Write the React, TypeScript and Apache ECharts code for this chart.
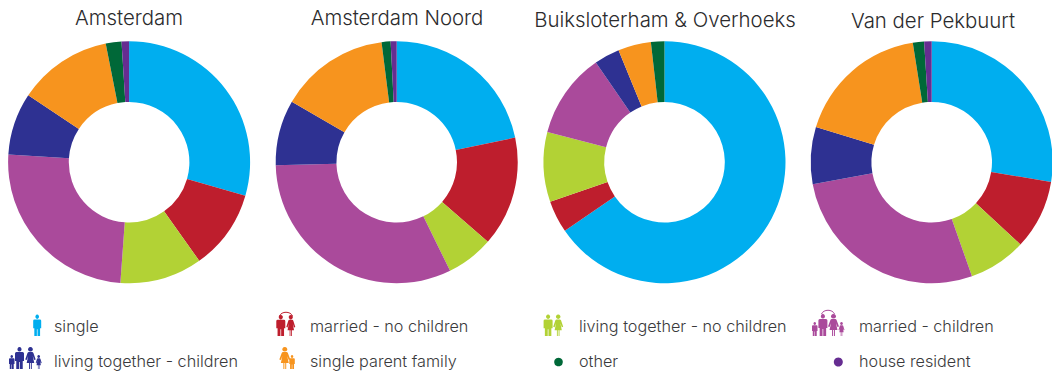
import React, { useEffect, useRef } from "react";
import * as echarts from "echarts";

const categories = [
  "single",
  "married - no children",
  "living together - no children",
  "married - children",
  "living together - children",
  "single parent family",
  "other",
  "house resident",
];
const colors = ["#00AEEF", "#BE1E2D", "#B2D235", "#AA4A9B", "#2E3192", "#F7941E", "#006838", "#662D91"];

const amsterdam = [29.5, 10.7, 11.0, 24.9, 8.3, 12.6, 2.1, 1.0];
const amsterdamNoord = [21.75, 14.7, 6.3, 31.9, 8.7, 14.7, 1.2, 0.8];
const buiksloterham = [65.4, 4.3, 9.3, 11.4, 3.4, 4.4, 1.8, 0];
const pekbuurt = [27.6, 9.3, 7.7, 27.5, 7.6, 17.8, 1.5, 1.0];

const areaNames = ["Amsterdam", "Amsterdam Noord", "Buiksloterham & Overhoeks", "Van der Pekbuurt"];
const areaValues = [amsterdam, amsterdamNoord, buiksloterham, pekbuurt];
const centersX = [129.1, 396.7, 664.5, 931.7];
const titleX = [129, 397, 665, 933];
const titleY = [17, 17, 19, 20];

const FONT = "Inter, Roboto, 'Liberation Sans', sans-serif";

const MAN = "M5 0A2.3 2.3 0 1 1 4.99 0ZM1.6 5H8.4Q10 5 10 6.5V14H8.6V22H5.4V15H4.6V22H1.4V14H0V6.5Q0 5 1.6 5Z";
const WOMAN = "M5 0A2.3 2.3 0 1 1 4.99 0ZM3.4 5H6.6Q7.4 5 7.8 6L10 12.5L8.6 13L7.2 9L8.6 16H6.3V22H5.4V16H4.6V22H3.7V16H1.4L2.8 9L1.4 13L0 12.5L2.2 6Q2.6 5 3.4 5Z";

echarts.graphic.registerShape("legendMan", echarts.graphic.extendPath(MAN, {}));
echarts.graphic.registerShape("legendWoman", echarts.graphic.extendPath(WOMAN, {}));

type Fig = [string, number, number, number, number];
// kind, left, top, width, height
const icons: { color: number; figs: Fig[]; arc?: [number, number, number] }[] = [
  { color: 0, figs: [["legendMan", 33.2, 314.5, 8, 21.5]] },
  { color: 1, figs: [["legendMan", 276.3, 315, 9, 21], ["legendWoman", 286.3, 315, 9, 21]], arc: [279.5, 292.5, 311] },
  { color: 2, figs: [["legendMan", 543.6, 314.5, 9, 21.5], ["legendWoman", 553.2, 314.5, 10, 21.5]] },
  {
    color: 3,
    figs: [
      ["legendMan", 812, 322, 5.5, 14],
      ["legendMan", 818.4, 314, 9, 22],
      ["legendWoman", 828, 314, 11, 22],
      ["legendWoman", 838.5, 322, 6, 14],
    ],
    arc: [821.5, 834.5, 309],
  },
  {
    color: 4,
    figs: [
      ["legendMan", 9, 355, 5.5, 14],
      ["legendMan", 15, 347, 9, 22],
      ["legendWoman", 25.2, 347, 10.5, 22],
      ["legendWoman", 35.7, 355, 6, 14],
    ],
  },
  { color: 5, figs: [["legendWoman", 279.3, 347, 11, 22], ["legendMan", 289.3, 355, 5.5, 14]] },
];
const dots = [
  { color: 6, x: 558.5, y: 362, r: 4.3 },
  { color: 7, x: 838.3, y: 362, r: 4.5 },
];
const legendText = [
  { cat: 0, x: 54, y: 326 },
  { cat: 1, x: 310, y: 326 },
  { cat: 2, x: 579, y: 326 },
  { cat: 3, x: 859, y: 326 },
  { cat: 4, x: 54, y: 361 },
  { cat: 5, x: 310, y: 361 },
  { cat: 6, x: 579, y: 361 },
  { cat: 7, x: 859, y: 361 },
];

export default function App() {
  const ref = useRef<HTMLDivElement>(null);
  useEffect(() => {
    const chart = echarts.init(ref.current!, null, { renderer: "svg" });
    const graphic: any[] = [];
    icons.forEach((ic) => {
      ic.figs.forEach(([type, x, y, w, h]) => {
        graphic.push({
          type,
          x,
          y,
          scaleX: w / 10,
          scaleY: h / 22,
          silent: true,
          style: { fill: colors[ic.color] },
        });
      });
      if (ic.arc) {
        const [a, b, top] = ic.arc;
        graphic.push({
          type: "bezierCurve",
          silent: true,
          shape: { x1: a, y1: top + 5, x2: b, y2: top + 5, cpx1: a + 2, cpy1: top, cpx2: b - 2, cpy2: top },
          style: { stroke: colors[ic.color], lineWidth: 1, fill: "none" },
        });
      }
    });
    dots.forEach((d) =>
      graphic.push({
        type: "circle",
        silent: true,
        shape: { cx: d.x, cy: d.y, r: d.r },
        style: { fill: colors[d.color] },
      })
    );
    legendText.forEach((t) =>
      graphic.push({
        type: "text",
        x: t.x,
        y: t.y,
        silent: true,
        style: {
          text: categories[t.cat],
          fill: "#3a3a3c",
          font: `300 16.2px ${FONT}`,
          textVerticalAlign: "middle",
          verticalAlign: "middle",
        },
      })
    );
    chart.setOption({
      animation: false,
      title: areaNames.map((text, i) => ({
        text,
        left: titleX[i],
        top: titleY[i] - 12,
        padding: 0,
        textAlign: "center",
        textStyle: { fontFamily: FONT, fontWeight: 300, fontSize: 20.4, color: "#2b2b2d", lineHeight: 24 },
      })),
      series: areaNames.map((name, i) => ({
        type: "pie",
        name,
        center: [centersX[i], 162.2],
        radius: [60.3, 121],
        startAngle: 90,
        clockwise: true,
        silent: true,
        label: { show: false },
        labelLine: { show: false },
        itemStyle: { borderWidth: 0 },
        data: areaValues[i].map((value, k) => ({
          name: categories[k],
          value,
          itemStyle: { color: colors[k] },
        })),
      })),
      graphic,
    });
    return () => chart.dispose();
  }, []);
  return <div ref={ref} style={{ position: "absolute", left: 0, top: 0, width: 1052, height: 375 }} />;
}
